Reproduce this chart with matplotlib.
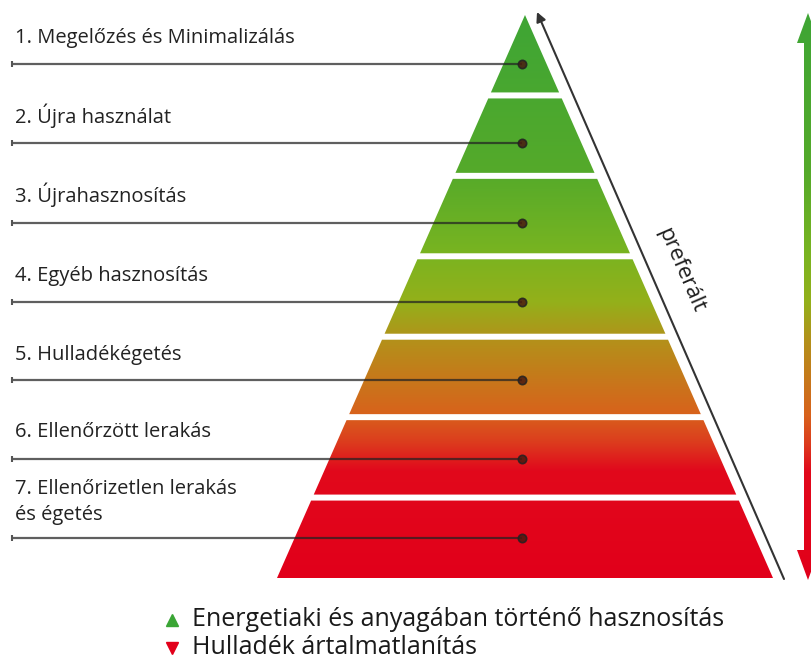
import numpy as np
import matplotlib.pyplot as plt
from matplotlib.patches import Polygon
from matplotlib.colors import LinearSegmentedColormap

# waste hierarchy levels (top = preferred)
labels = [
    "1. Megelőzés és Minimalizálás",
    "2. Újra használat",
    "3. Újrahasznosítás",
    "4. Egyéb hasznosítás",
    "5. Hulladékégetés",
    "6. Ellenőrzött lerakás",
    "7. Ellenőrizetlen lerakás\nés égetés",
]
label_y = [43, 123, 202, 281, 360, 437, 520]
line_y = [64, 143, 223, 302, 380, 459, 538]

legend_labels = ["Energetiaki és anyagában történő hasznosítás",
                 "Hulladék ártalmatlanítás"]
legend_colors = ["#3aa535", "#e2001a"]

# vertical colour ramp (position from apex to base, colour)
grad_pos = [0.0, 0.28, 0.42, 0.51, 0.58, 0.71, 0.76, 0.81, 1.0]
grad_col = ["#3ea535", "#55aa2a", "#78b421", "#94b01a", "#b4901a",
            "#d8621c", "#dc3c1e", "#e1091c", "#e2001a"]
cmap = LinearSegmentedColormap.from_list("hier", list(zip(grad_pos, grad_col)))

W, H = 812, 664
fig = plt.figure(figsize=(W / 100, H / 100), dpi=100)
ax = fig.add_axes([0, 0, 1, 1])
ax.set_xlim(0, W)
ax.set_ylim(H, 0)
ax.axis("off")

apex_x, apex_y = 525, 15
base_y, half_base = 578, 248
gap = 6
n = len(labels)
band_h = (base_y - apex_y) / n

def half_width(y):
    return half_base * (y - apex_y) / (base_y - apex_y)

grad = np.linspace(0, 1, 256).reshape(-1, 1)
for i in range(n):
    y0 = apex_y + i * band_h + (gap / 2 if i > 0 else 0)
    y1 = apex_y + (i + 1) * band_h - (gap / 2 if i < n - 1 else 0)
    pts = [(apex_x - half_width(y0), y0), (apex_x + half_width(y0), y0),
           (apex_x + half_width(y1), y1), (apex_x - half_width(y1), y1)]
    poly = Polygon(pts, closed=True, facecolor="none", edgecolor="none")
    ax.add_patch(poly)
    im = ax.imshow(grad, cmap=cmap, aspect="auto", interpolation="bilinear",
                   extent=[apex_x - half_base, apex_x + half_base, base_y, apex_y])
    im.set_clip_path(poly)

# leader lines and labels
for lab, ly, ty in zip(labels, line_y, label_y):
    ax.plot([12, 522], [ly, ly], color="#222222", alpha=0.72, lw=1.6,
            solid_capstyle="butt")
    ax.plot([12], [ly], marker="|", ms=5, color="#555555", mew=1.5)
    ax.plot([522], [ly], marker="o", ms=6, mfc="#4a1a10", mec="#222222",
            mew=1.2, alpha=0.85)
    ax.text(15, ty, lab, fontsize=14.5, family="Open Sans", color="#222222",
            va="baseline", ha="left", linespacing=1.4)

# "preferált" arrow along the right side
ax.annotate("", xy=(537, 12), xytext=(784, 579),
            arrowprops=dict(arrowstyle="-|>", color="#333333", lw=1.5,
                            mutation_scale=14, shrinkA=0, shrinkB=0))
ax.text(681, 270, "preferált", fontsize=16, family="Open Sans", color="#1e1e1e",
        rotation=-66.5, ha="center", va="center", rotation_mode="anchor")

# double-headed gradient arrow at the right edge
ax_x = 808
arr_img = ax.imshow(grad, cmap=cmap, aspect="auto", interpolation="bilinear",
                    extent=[ax_x - 12, ax_x + 12, 580, 13])
arr = Polygon([(ax_x, 13), (ax_x + 11, 43), (ax_x + 4, 43), (ax_x + 4, 550),
               (ax_x + 11, 550), (ax_x, 580), (ax_x - 11, 550), (ax_x - 4, 550),
               (ax_x - 4, 43), (ax_x - 11, 43)], closed=True,
              facecolor="none", edgecolor="none")
ax.add_patch(arr)
arr_img.set_clip_path(arr)

# legend
for i, (lab, col) in enumerate(zip(legend_labels, legend_colors)):
    y = 620 + i * 28
    ax.plot([172], [y], marker="^" if i == 0 else "v", ms=9, color=col)
    ax.text(192, y, lab, fontsize=18, family="Open Sans", color="#1a1a1a",
            va="center", ha="left")

fig.savefig("out.png", dpi=100)
